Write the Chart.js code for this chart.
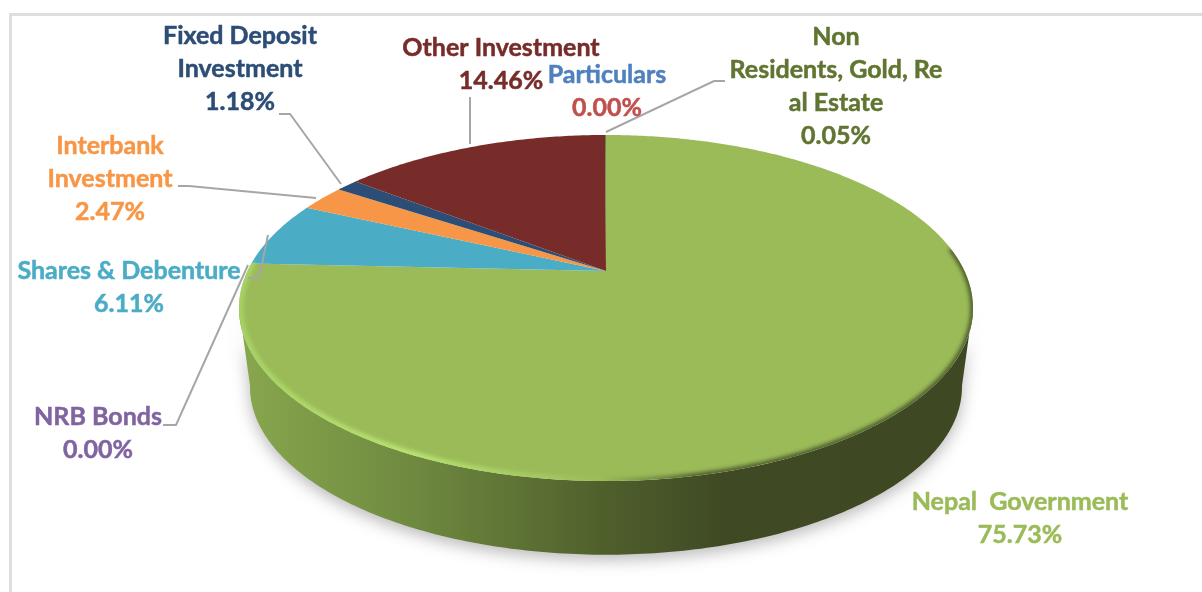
<!DOCTYPE html>
<html>
<head>
<meta charset="utf-8">
<title>Investment composition</title>
<style>
  html, body { margin: 0; padding: 0; background: #fff; }
  #wrap { position: relative; width: 1202px; height: 592px; overflow: hidden; }
  #frame { position: absolute; left: 9px; top: 13px; width: 1300px; height: 700px; border-left: 3px solid #dedede; border-top: 3px solid #dedede; }
  canvas { position: absolute; left: 0; top: 0; }
</style>
<script src="https://cdn.jsdelivr.net/npm/chart.js@4/dist/chart.umd.min.js"></script>
</head>
<body>
<div id="wrap">
  <div id="frame"></div>
  <canvas id="pie" width="1202" height="592"></canvas>
</div>
<script>
const categories = ['Nepal  Government', 'NRB Bonds', 'Shares & Debenture', 'Interbank Investment', 'Fixed Deposit Investment', 'Other Investment', 'Non Residents, Gold, Real Estate', 'Particulars'];
const shares = [75.73, 0.00, 6.11, 2.47, 1.18, 14.46, 0.05, 0.00];
const sliceColors = ['#9BBB59', '#8064A2', '#4BACC6', '#F79646', '#2C4D75', '#772C2A', '#5F7530', '#4F81BD'];
const nameColors = ['#9BBB59', '#8064A2', '#4BACC6', '#F79646', '#2C4D75', '#772C2A', '#5F7530', '#4F81BD'];
const valueColors = ['#9BBB59', '#8064A2', '#4BACC6', '#F79646', '#2C4D75', '#772C2A', '#5F7530', '#C0504D'];
const wrappedNames = [
  ['Nepal  Government'],
  ['NRB Bonds'],
  ['Shares & Debenture'],
  ['Interbank', 'Investment'],
  ['Fixed Deposit', 'Investment'],
  ['Other Investment'],
  ['Non', 'Residents, Gold, Re', 'al Estate'],
  ['Particulars']
];

// label layout: centre x and y of the first line
const labelSpots = [[1020, 502], [98, 417], [129, 271], [110, 146], [240, 36], [501, 48], [836, 37], [607, 75]];
const lineGap = 33;
const leaders = [
  null,
  [[163, 425], [176, 425], [248, 265]],
  [[248, 278], [259, 278], [268, 235]],
  [[178, 186], [189, 186], [316, 198]],
  [[279, 114], [290, 114], [341, 184]],
  [[470, 97], [470, 144]],
  [[725, 81], [714, 81], [606, 132]],
  null
];

// tilted disc: the pie centre sits above the middle of the ellipse because of perspective
const disc = { cx: 606, cy: 271, r: 358.5, s: 165.1, k: -0.2139 };
const wall = { scale: 0.97, drop: 80 };

function project(a, rad = 1) {
  const u = Math.cos(a) * rad, v = Math.sin(a) * rad;
  const w = 1 + disc.k * v;
  return [disc.cx + disc.r * u / w, disc.cy + disc.s * v / w];
}

function lower(a) {
  const p = project(a);
  return [disc.cx + (p[0] - disc.cx) * wall.scale, disc.cy + (p[1] - disc.cy) * wall.scale + wall.drop];
}

function rimPath(ctx, from, to, rad) {
  const steps = Math.max(2, Math.ceil(Math.abs(to - from) * 90));
  for (let i = 0; i <= steps; i++) {
    const p = project(from + (to - from) * i / steps, rad);
    ctx.lineTo(p[0], p[1]);
  }
}

const DEG = Math.PI / 180;

function drawWall(ctx) {
  const from = 12 * DEG, to = 168 * DEG, steps = 200;
  ctx.save();
  ctx.beginPath();
  rimPath(ctx, from, to, 1);
  for (let i = steps; i >= 0; i--) {
    const q = lower(from + (to - from) * i / steps);
    ctx.lineTo(q[0], q[1]);
  }
  ctx.closePath();
  const g = ctx.createLinearGradient(239, 0, 973, 0);
  g.addColorStop(0, '#88A74D');
  g.addColorStop(0.22, '#718C41');
  g.addColorStop(0.5, '#4F5F2C');
  g.addColorStop(0.66, '#3F4A24');
  g.addColorStop(1, '#3E4923');
  ctx.fillStyle = g;
  ctx.shadowColor = 'rgba(0,0,0,0.28)';
  ctx.shadowBlur = 16;
  ctx.shadowOffsetY = 5;
  ctx.fill();
  ctx.restore();
}

function drawBevel(ctx) {
  ctx.save();
  ctx.beginPath();
  rimPath(ctx, 0, Math.PI * 2, 1);
  ctx.clip();
  ctx.filter = 'blur(2px)';
  // dark soft edge on the right, light one on the left
  ctx.beginPath();
  rimPath(ctx, -8 * DEG, 90 * DEG, 1);
  const d = ctx.createLinearGradient(600, 0, 700, 0);
  d.addColorStop(0, 'rgba(62,73,35,0)');
  d.addColorStop(1, 'rgba(62,73,35,0.95)');
  ctx.strokeStyle = d;
  ctx.lineWidth = 5;
  ctx.stroke();
  ctx.beginPath();
  rimPath(ctx, 88 * DEG, 183 * DEG, 0.997);
  const l = ctx.createLinearGradient(239, 0, 630, 0);
  l.addColorStop(0, '#A9D465');
  l.addColorStop(0.45, '#BCE974');
  l.addColorStop(0.8, 'rgba(175,215,105,0.5)');
  l.addColorStop(1, 'rgba(155,187,89,0)');
  ctx.strokeStyle = l;
  ctx.lineWidth = 6;
  ctx.stroke();
  ctx.restore();
}

const tiltedPie = {
  id: 'tiltedPie',
  beforeDatasetsDraw(chart) {
    const ctx = chart.ctx;
    const arcs = chart.getDatasetMeta(0).data;
    drawWall(ctx);
    arcs.forEach((arc, i) => {
      const { startAngle, endAngle } = arc.getProps(['startAngle', 'endAngle'], true);
      if (endAngle - startAngle <= 0) return;
      ctx.beginPath();
      ctx.moveTo(disc.cx, disc.cy);
      rimPath(ctx, startAngle, endAngle, 1);
      ctx.closePath();
      ctx.fillStyle = arc.options.backgroundColor;
      ctx.fill();
    });
    drawBevel(ctx);
    return false; // the disc above replaces the flat arcs
  },
  afterDraw(chart) {
    const ctx = chart.ctx;
    ctx.save();
    ctx.strokeStyle = '#A6A6A6';
    ctx.lineWidth = 2;
    leaders.forEach(pts => {
      if (!pts) return;
      ctx.beginPath();
      pts.forEach((p, j) => j ? ctx.lineTo(p[0], p[1]) : ctx.moveTo(p[0], p[1]));
      ctx.stroke();
    });
    ctx.font = 'bold 25px Lato';
    ctx.textAlign = 'center';
    ctx.textBaseline = 'middle';
    ctx.lineWidth = 0.5;
    categories.forEach((c, i) => {
      const [x, y] = labelSpots[i];
      const names = wrappedNames[i];
      ctx.fillStyle = ctx.strokeStyle = nameColors[i];
      names.forEach((t, n) => {
        ctx.fillText(t, x, y + n * lineGap);
        ctx.strokeText(t, x, y + n * lineGap);
      });
      const val = shares[i].toFixed(2) + '%';
      ctx.fillStyle = ctx.strokeStyle = valueColors[i];
      ctx.fillText(val, x, y + names.length * lineGap);
      ctx.strokeText(val, x, y + names.length * lineGap);
    });
    ctx.restore();
  }
};

new Chart(document.getElementById('pie'), {
  type: 'pie',
  data: {
    labels: categories,
    datasets: [{ data: shares, backgroundColor: sliceColors, borderWidth: 0 }]
  },
  options: {
    responsive: false,
    animation: false,
    events: [],
    plugins: { legend: { display: false }, tooltip: { enabled: false } }
  },
  plugins: [tiltedPie]
});
</script>
</body>
</html>
